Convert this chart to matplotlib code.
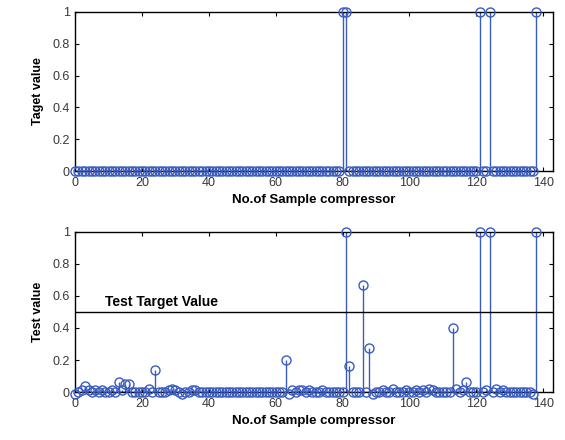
import matplotlib.pyplot as plt
import numpy as np

plt.rcParams['font.family'] = ['Liberation Sans', 'DejaVu Sans']

# sample numbers of the compressor data set
samples = list(range(139))

# target values: 1 marks a faulty sample
target = ([0] * 80 + [1, 1] + [0] * 39 + [1] + [0] * 2 + [1] + [0] * 13 + [1])

# network output for the test set
test = [
    -0.01, 0.0, 0.01, 0.04, 0.01, 0.0, 0.01, 0.0, 0.01, 0.0,
    0.0, 0.01, 0.0, 0.065, 0.01, 0.05, 0.05, 0.0, 0.0, 0.0,
    0.0, 0.0, 0.02, 0.0, 0.14, 0.0, 0.0, 0.0, 0.01, 0.02,
    0.01, 0.0, -0.01, 0.0, 0.0, 0.01, 0.01, 0.0, 0.0, 0.0,
    0.0, 0.0, 0.0, 0.0, 0.0, 0.0, 0.0, 0.0, 0.0, 0.0,
    0.0, 0.0, 0.0, 0.0, 0.0, 0.0, 0.0, 0.0, 0.0, 0.0,
    0.0, 0.0, 0.0, 0.2, -0.01, 0.01, 0.0, 0.01, 0.01, 0.0,
    0.01, 0.0, 0.0, 0.0, 0.01, 0.0, 0.0, 0.0, 0.0, 0.0,
    0.0, 1.0, 0.16, 0.0, 0.0, 0.0, 0.67, 0.0, 0.275, -0.01,
    0.0, 0.0, 0.01, 0.0, 0.0, 0.02, 0.0, 0.0, 0.0, 0.01,
    0.0, 0.0, 0.01, 0.0, 0.01, 0.0, 0.02, 0.01, 0.0, 0.0,
    0.0, 0.0, 0.0, 0.40, 0.02, 0.0, 0.01, 0.06, 0.0, 0.0,
    0.0, 1.0, 0.0, 0.01, 1.0, 0.0, 0.02, 0.0, 0.01, 0.0,
    0.0, 0.0, 0.0, 0.0, 0.0, 0.0, 0.0, -0.01, 1.0,
]
threshold = 0.5

blue = '#3a5cc0'


def stem_axes(ax, y, ylabel):
    markers, stems, base = ax.stem(samples, y, basefmt='k-')
    plt.setp(markers, marker='o', markerfacecolor='none', markeredgecolor=blue,
             markersize=6.5, markeredgewidth=1.0, clip_on=False, zorder=3)
    plt.setp(stems, color=blue, linewidth=1.0)
    plt.setp(base, linewidth=1.0)
    ax.set_xlim(0, 143)
    ax.set_ylim(0, 1)
    ax.set_xticks(np.arange(0, 141, 20))
    ax.set_yticks([0, 0.2, 0.4, 0.6, 0.8, 1])
    ax.set_yticklabels(['0', '0.2', '0.4', '0.6', '0.8', '1'])
    ax.tick_params(direction='in', top=True, right=True, length=3, pad=4,
                   labelsize=9, labelcolor='#383838', width=0.8)
    for s in ax.spines.values():
        s.set_linewidth(1.0)
    ax.set_xlabel('No.of Sample compressor', fontsize=9.5, fontweight='bold', labelpad=4)
    ax.set_ylabel(ylabel, fontsize=9, fontweight='bold', labelpad=6)


fig = plt.figure(figsize=(5.65, 4.4), dpi=100)
ax1 = fig.add_axes([0.133, 0.611, 0.846, 0.362])
ax2 = fig.add_axes([0.133, 0.109, 0.846, 0.364])

stem_axes(ax1, target, 'Taget value')
stem_axes(ax2, test, 'Test value')

ax2.axhline(threshold, color='black', linewidth=1.0)
ax2.text(9, 0.535, 'Test Target Value', fontsize=10, fontweight='bold')

fig.savefig('out.png', dpi=100)
